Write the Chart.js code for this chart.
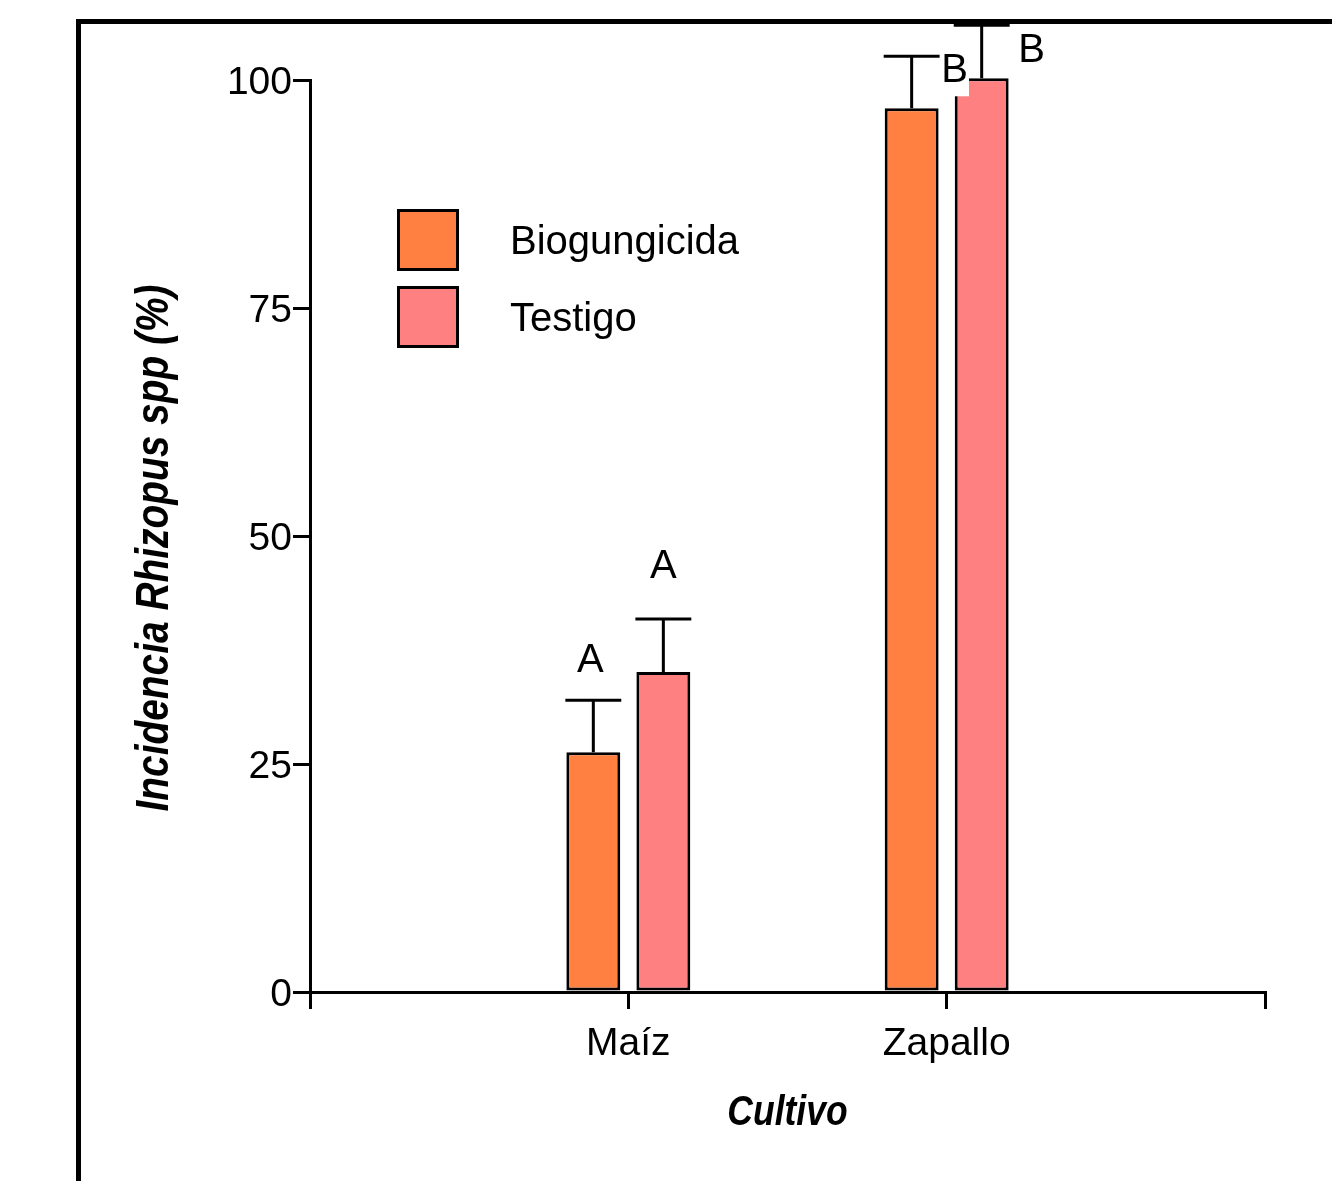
<!DOCTYPE html>
<html>
<head>
<meta charset="utf-8">
<script src="https://cdn.jsdelivr.net/npm/chart.js@4/dist/chart.umd.min.js"></script>
<style>
  html, body { margin: 0; padding: 0; background: #fff; }
  #wrap { position: relative; width: 1332px; height: 1181px; overflow: hidden; }
  #frame {
    position: absolute; left: 76px; top: 19px; width: 1400px; height: 1300px;
    border-left: 5px solid #000; border-top: 5px solid #000;
  }
  canvas { position: absolute; left: 0; top: 0; }
</style>
</head>
<body>
<div id="wrap">
  <div id="frame"></div>
  <canvas id="chart" width="1332" height="1181"></canvas>
</div>
<script>
// data
const categories = ['Maíz', 'Zapallo'];
const bioValues = [26.3, 96.9];
const bioErrors = [5.7, 5.7];
const testigoValues = [35.1, 100.2];
const testigoErrors = [5.8, 5.8];
const bioLetters = ['A', 'B'];
const testigoLetters = ['A', 'B'];
const yTicks = [0, 25, 50, 75, 100];
const xTitle = 'Cultivo';
const yTitle = 'Incidencia Rhizopus spp (%)';

const ORANGE = '#FF8040';
const PINK = '#FF8080';
const SANS = '"Liberation Sans", Arial, Helvetica, sans-serif';

// empty slots at both ends so the category ticks fall at 1/3 and 2/3 of the axis
const labels = [''].concat(categories, ['']);
const pad = arr => [null].concat(arr, [null]);

// error bars + significance letters
const errorBars = {
  id: 'errorBars',
  afterDatasetsDraw(chart, args, opts) {
    const ctx = chart.ctx;
    const y = chart.scales.y;
    chart.data.datasets.forEach((ds, di) => {
      const meta = chart.getDatasetMeta(di);
      meta.data.forEach((bar, i) => {
        if (ds.data[i] == null) return;
        const top = y.getPixelForValue(ds.data[i]);
        const cap = y.getPixelForValue(ds.data[i] + ds.errors[i]);
        const half = bar.width / 2 + 1;
        ctx.save();
        ctx.strokeStyle = '#000';
        ctx.lineWidth = 3;
        ctx.beginPath();
        ctx.moveTo(bar.x, top);
        ctx.lineTo(bar.x, cap);
        ctx.moveTo(bar.x - half, cap);
        ctx.lineTo(bar.x + half, cap);
        ctx.stroke();

        const txt = ds.letters[i];
        const off = opts.offsets[di][i];
        ctx.font = '40px ' + SANS;
        ctx.textAlign = 'center';
        ctx.textBaseline = 'alphabetic';
        const w = ctx.measureText(txt).width;
        const tx = bar.x + off[0], ty = cap + off[1];
        ctx.fillStyle = '#fff';
        ctx.fillRect(tx - w / 2 - 1, ty - 30, w + 2, 44);
        ctx.fillStyle = '#000';
        ctx.fillText(txt, tx, ty);
        ctx.restore();
      });
    });
  }
};

// boxed legend inside the plot
const boxLegend = {
  id: 'boxLegend',
  afterDraw(chart) {
    const ctx = chart.ctx;
    ctx.save();
    chart.data.datasets.forEach((ds, i) => {
      const bx = 397, by = 209 + i * 77, s = 62;
      ctx.fillStyle = ds.backgroundColor;
      ctx.fillRect(bx, by, s, s);
      ctx.strokeStyle = '#000';
      ctx.lineWidth = 3;
      ctx.strokeRect(bx + 1.5, by + 1.5, s - 3, s - 3);
      ctx.fillStyle = '#000';
      ctx.font = '40px ' + SANS;
      ctx.textAlign = 'left';
      ctx.textBaseline = 'middle';
      ctx.fillText(ds.label, 510, by + s / 2 + 3);
    });
    ctx.restore();
  }
};

// condensed bold-italic axis titles (no narrow face installed, so squeeze horizontally)
const axisTitles = {
  id: 'axisTitles',
  afterDraw(chart) {
    const ctx = chart.ctx;
    const area = chart.chartArea;
    const squeeze = 0.845;
    ctx.save();
    ctx.fillStyle = '#000';
    ctx.textAlign = 'center';
    ctx.textBaseline = 'middle';

    ctx.save();
    ctx.font = 'italic bold 42px ' + SANS;
    ctx.translate((area.left + area.right) / 2, 1113);
    ctx.scale(squeeze, 1);
    ctx.fillText(xTitle, 0, 0);
    ctx.restore();

    ctx.save();
    ctx.font = 'italic bold 46px ' + SANS;
    ctx.translate(155, 548);
    ctx.rotate(-Math.PI / 2);
    ctx.scale(squeeze, 1);
    ctx.fillText(yTitle, 0, 0);
    ctx.restore();

    ctx.restore();
  }
};

new Chart(document.getElementById('chart'), {
  type: 'bar',
  data: {
    labels: labels,
    datasets: [
      {
        label: 'Biogungicida',
        data: pad(bioValues),
        errors: pad(bioErrors),
        letters: pad(bioLetters),
        backgroundColor: ORANGE
      },
      {
        label: 'Testigo',
        data: pad(testigoValues),
        errors: pad(testigoErrors),
        letters: pad(testigoLetters),
        backgroundColor: PINK
      }
    ].map(d => Object.assign(d, {
      borderColor: '#000',
      borderWidth: 3,
      borderSkipped: false,
      categoryPercentage: 0.44,
      barPercentage: 0.77,
      clip: false
    }))
  },
  options: {
    responsive: false,
    devicePixelRatio: 1,
    animation: false,
    layout: { padding: { left: 0, right: 67, top: 80, bottom: 0 } },
    scales: {
      x: {
        offset: false,
        afterFit(scale) { scale.height = 189; },
        border: { color: '#000', width: 3 },
        grid: { offset: false, drawOnChartArea: false, drawTicks: true, tickLength: 17, color: '#000', lineWidth: 3 },
        ticks: { color: '#000', font: { family: SANS, size: 39 }, padding: 12, autoSkip: false, maxRotation: 0 }
      },
      y: {
        min: 0,
        max: 100,
        afterFit(scale) { scale.width = 310; },
        afterBuildTicks(scale) { scale.ticks = yTicks.map(v => ({ value: v })); },
        border: { color: '#000', width: 3 },
        grid: { drawOnChartArea: false, drawTicks: true, tickLength: 17, color: '#000', lineWidth: 3 },
        ticks: { color: '#000', font: { family: SANS, size: 39 }, padding: 1, labelOffset: 3 }
      }
    },
    plugins: {
      legend: { display: false },
      tooltip: { enabled: false },
      errorBars: { offsets: [[[0, 0], [-3, -28], [43, 26], [0, 0]], [[0, 0], [0, -41], [50, 37], [0, 0]]] }
    }
  },
  plugins: [errorBars, boxLegend, axisTitles]
});
</script>
</body>
</html>
